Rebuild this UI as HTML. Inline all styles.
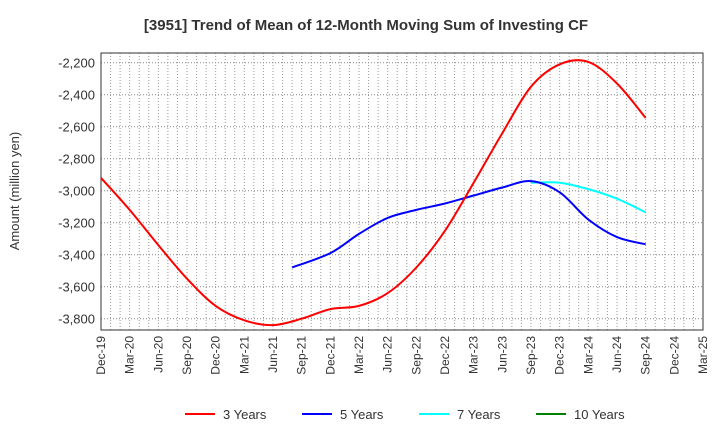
<!DOCTYPE html>
<html><head><meta charset="utf-8"><style>
body{margin:0;background:#fff;font-family:"Liberation Sans",Arial,sans-serif}
svg text{font-family:"Liberation Sans",Arial,sans-serif}
</style></head><body>
<svg id="c" width="720" height="440" xmlns="http://www.w3.org/2000/svg">
<text x="366" y="30" text-anchor="middle" font-size="15" font-weight="bold" fill="#333">[3951]  Trend of Mean of 12-Month Moving Sum of Investing CF</text>
<text transform="translate(19,191) rotate(-90)" text-anchor="middle" font-size="13" fill="#333">Amount (million yen)</text>
<g id="grid"></g><g id="axes"></g><g id="series"></g><g id="legend"></g>
</svg>
<script>
const xLabels=["Dec-19","Mar-20","Jun-20","Sep-20","Dec-20","Mar-21","Jun-21","Sep-21","Dec-21","Mar-22","Jun-22","Sep-22","Dec-22","Mar-23","Jun-23","Sep-23","Dec-23","Mar-24","Jun-24","Sep-24","Dec-24","Mar-25"];
const yTicks=[-2200,-2400,-2600,-2800,-3000,-3200,-3400,-3600,-3800];
const seriesNames=["3 Years","5 Years","7 Years","10 Years"];
const seriesColors=["#ff0000","#0000ff","#00ffff","#008000"];
// month index from Dec-19
const m3=[0,3,6,9,12,15,18,21,24,27,30,33,36,39,42,45,48,51,54,57];
const v3=[-2920,-3120,-3340,-3550,-3720,-3810,-3840,-3800,-3740,-3720,-3640,-3480,-3250,-2950,-2640,-2350,-2210,-2195,-2330,-2545];
const m5=[20,24,27,30,33,36,39,42,45,48,51,54,57];
const v5=[-3480,-3390,-3270,-3170,-3120,-3080,-3030,-2980,-2940,-3010,-3180,-3290,-3335];
const m7=[45,48,51,54,57];
const v7=[-2950,-2950,-2990,-3050,-3135];
const L=101,R=703,T=53,B=330;
const X=m=>L+m*(R-L)/63;
const Y=v=>62.7+(-2200-v)*0.16;
const NS="http://www.w3.org/2000/svg";
function mk(t,a,p){const e=document.createElementNS(NS,t);for(const k in a)e.setAttribute(k,a[k]);p.appendChild(e);return e;}
const grid=document.getElementById('grid'),axes=document.getElementById('axes'),ser=document.getElementById('series'),leg=document.getElementById('legend');
for(let m=1;m<63;m++){const l=mk('line',{x1:X(m),x2:X(m),y1:T,y2:B,stroke:'#999','stroke-dasharray':'1,2','stroke-width':1},grid);

}
yTicks.forEach(v=>{const l=mk('line',{x1:L,x2:R,y1:Y(v),y2:Y(v),stroke:'#888','stroke-dasharray':'1,2','stroke-width':1},grid);


const t=mk('text',{x:L-6,y:Y(v)+5,'text-anchor':'end','font-size':13,fill:'#333'},axes);t.textContent=v.toLocaleString('en-US');

});
const fr=mk('rect',{x:L,y:T,width:R-L,height:B-T,fill:'none',stroke:'#333','stroke-width':1},axes);


xLabels.forEach((s,i)=>{const x=X(i*3);const t=mk('text',{transform:`translate(${x+4},${B+6}) rotate(-90)`,'text-anchor':'end','font-size':12,fill:'#333'},axes);t.textContent=s;

});
function path(ms,vs){const p=ms.map((m,i)=>[X(m),Y(vs[i])]);let d=`M${p[0][0]},${p[0][1]}`;
for(let i=0;i<p.length-1;i++){const p0=p[i-1]||p[i],p1=p[i],p2=p[i+1],p3=p[i+2]||p2;
d+=`C${p1[0]+(p2[0]-p0[0])/6},${p1[1]+(p2[1]-p0[1])/6} ${p2[0]-(p3[0]-p1[0])/6},${p2[1]-(p3[1]-p1[1])/6} ${p2[0]},${p2[1]}`;}return d;}
[[m7,v7,2,'line-7-years'],[m5,v5,1,'line-5-years'],[m3,v3,0,'line-3-years']].forEach(([m,v,c,n])=>{const e=mk('path',{d:path(m,v),fill:'none',stroke:seriesColors[c],'stroke-width':2},ser);

});
const lx=[185,302,419,536];
seriesNames.forEach((s,i)=>{const g=mk('g',{},leg);


mk('line',{x1:lx[i],x2:lx[i]+30,y1:414,y2:414,stroke:seriesColors[i],'stroke-width':2},g);
const t=mk('text',{x:lx[i]+38,y:419,'font-size':13,fill:'#333'},g);t.textContent=s;});
</script>
</body></html>
